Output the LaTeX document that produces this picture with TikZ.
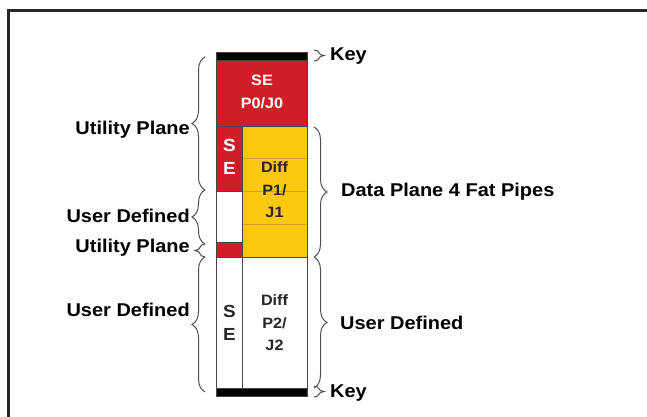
\documentclass[tikz,border=0pt]{standalone}
\usepackage{fontspec}
\setmainfont{Liberation Sans}[FakeStretch=1.08]
\usetikzlibrary{decorations.pathreplacing}
\definecolor{pred}{RGB}{208,30,40}
\definecolor{pyel}{RGB}{250,200,12}
\definecolor{pline}{RGB}{214,160,30}
\definecolor{edgec}{RGB}{70,70,70}
\definecolor{framec}{RGB}{40,40,40}
\definecolor{bracec}{RGB}{80,80,80}
\begin{document}
\begin{tikzpicture}[x=1pt,y=-1pt,
  blk/.style={draw=edgec, line width=0.7pt, inner sep=0pt, outer sep=0pt, anchor=north west},
  pipe/.style={blk, fill=pyel, draw=pline, line width=0.6pt, minimum width=65pt, minimum height=32.75pt},
  intext/.style={font=\bfseries\fontsize{15}{22.5}\selectfont, align=center, inner sep=0pt},
  lbl/.style={font=\bfseries\fontsize{18.5}{22}\selectfont, inner sep=0pt},
  brc/.style={draw=bracec, line width=1pt, decorate, decoration={brace, amplitude=13pt}},
  kbrc/.style={draw=bracec, line width=1pt, decorate, decoration={brace, amplitude=10pt}}]
\useasboundingbox (0,0) rectangle (647,417);
\clip (0,0) rectangle (647,417);
\fill[white] (0,0) rectangle (647,417);
\draw[line width=3pt, framec] (8.5,430) -- (8.5,11) -- (660,11);

% column blocks
\node[blk, fill=black, minimum width=90.5pt, minimum height=8pt] (keytop) at (216.5,52) {};
\node[blk, fill=pred, minimum width=90.5pt, minimum height=66pt] (se0) at (216.5,60) {};
\node[blk, fill=pred, minimum width=25.5pt, minimum height=65pt] (se1) at (216.5,126) {};
\node[blk, fill=white, minimum width=25.5pt, minimum height=51pt] (ud1) at (216.5,191) {};
\node[blk, fill=pred, minimum width=25.5pt, minimum height=15pt] (up2) at (216.5,242) {};
\node[pipe] (p1) at (242,126) {};
\node[pipe] (p2) at (242,158.75) {};
\node[pipe] (p3) at (242,191.5) {};
\node[pipe] (p4) at (242,224.25) {};
\draw[edgec, line width=0.7pt] (p1.north west) rectangle (p4.south east);
\node[blk, fill=white, minimum width=25.5pt, minimum height=131pt] (se2) at (216.5,257) {};
\node[blk, fill=white, minimum width=65pt, minimum height=131pt] (diff2) at (242,257) {};
\node[blk, fill=black, minimum width=90.5pt, minimum height=8pt] (keybot) at (216.5,388) {};

% block texts
\node[intext, white] (t0) at (262,92) {SE\\P0/J0};
\node[intext, white, font=\bfseries\fontsize{17.5}{22.5}\selectfont] (t1) at (229.5,157) {S\\E};
\node[intext, black!85] (t2) at (274.5,190) {Diff\\P1/\\J1};
\node[intext, black!85, font=\bfseries\fontsize{17.5}{23}\selectfont] (t3) at (229.5,323) {S\\E};
\node[intext, black!85] (t4) at (274.5,323) {Diff\\P2/\\J2};

% left braces
\coordinate (l1a) at (205,190); \coordinate (l1b) at (205,57);
\coordinate (l2a) at (205,244); \coordinate (l2b) at (205,190);
\coordinate (l3a) at (205,257); \coordinate (l3b) at (205,244);
\coordinate (l4a) at (205,392); \coordinate (l4b) at (205,257);
\draw[brc] (l1a) -- (l1b);
\draw[brc] (l2a) -- (l2b);
\draw[kbrc] (l3a) -- (l3b);
\draw[brc] (l4a) -- (l4b);
\node[lbl, anchor=east] (u1) at (190,130) {Utility Plane};
\node[lbl, anchor=east] (u2) at (190,216) {User Defined};
\node[lbl, anchor=east] (u3) at (190,248) {Utility Plane};
\node[lbl, anchor=east] (u4) at (190,310) {User Defined};

% right braces
\coordinate (r0a) at (314,50); \coordinate (r0b) at (314,61);
\coordinate (r1a) at (314,127); \coordinate (r1b) at (314,257);
\coordinate (r2a) at (314,257); \coordinate (r2b) at (314,388);
\coordinate (r3a) at (314,386); \coordinate (r3b) at (314,397);
\draw[kbrc] (r0a) -- (r0b);
\draw[brc] (r1a) -- (r1b);
\draw[brc] (r2a) -- (r2b);
\draw[kbrc] (r3a) -- (r3b);
\node[lbl, anchor=west] (k1) at (330,56) {Key};
\node[lbl, anchor=west] (dp) at (341,192) {Data Plane 4 Fat Pipes};
\node[lbl, anchor=west] (ud) at (340,323) {User Defined};
\node[lbl, anchor=west] (k2) at (330,393) {Key};
\end{tikzpicture}
\end{document}
